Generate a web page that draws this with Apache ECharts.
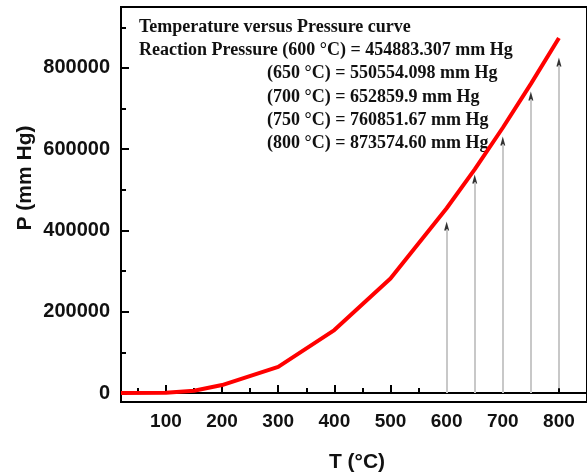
<!DOCTYPE html>
<html>
<head>
<meta charset="utf-8">
<script src="https://cdn.jsdelivr.net/npm/echarts@6/dist/echarts.min.js"></script>
<style>
  html, body { margin: 0; padding: 0; background: #fff; }
  #chart { width: 587px; height: 472px; }
</style>
</head>
<body>
<div id="chart"></div>
<script>
// curve
const temps = [20, 100, 150, 200, 300, 400, 500, 600, 650, 700, 750, 800]
const pressure = [0, 1000, 5600, 19700, 64600, 155000, 282000, 454883, 550554, 652860, 760852, 873575]

// gray arrows
const arrowT = [600, 650, 700, 750, 800]
const arrowBase = [0, 0, 0, 0, 12000]
const arrowTip = [421000, 536600, 630000, 741000, 824600]

const xTicks = [100, 200, 300, 400, 500, 600, 700, 800]
const xMinor = [50, 150, 250, 350, 450, 550, 650, 750, 850]
const yTicks = [0, 200000, 400000, 600000, 800000]
const yMinor = [100000, 300000, 500000, 700000, 900000]

const notes = [
  'Temperature versus Pressure curve',
  'Reaction Pressure (600 °C) = 454883.307 mm Hg',
  '(650 °C) = 550554.098 mm Hg',
  '(700 °C) = 652859.9 mm Hg',
  '(750 °C) = 760851.67 mm Hg',
  '(800 °C) = 873574.60 mm Hg'
]

const sans = 'Liberation Sans, Arial, sans-serif'
const serif = 'Liberation Serif, Times New Roman, serif'

const chart = echarts.init(document.getElementById('chart'))

const xBase = { type: 'value', min: 20, max: 850, splitLine: { show: false } }
const yBase = { type: 'value', min: -22000, max: 950000, splitLine: { show: false } }

const noteText = notes.map((t, i) => ({
  type: 'text',
  x: i < 2 ? 139 : 267,
  y: 27 + i * 23.3,
  style: {
    text: t,
    font: 'bold 18px ' + serif,
    fill: '#111',
    textVerticalAlign: 'middle'
  }
}))

chart.setOption({
  animation: false,
  grid: { left: 121, top: 7, right: -3, bottom: 70, show: true, borderColor: '#000', borderWidth: 2 },
  xAxis: [
    Object.assign({}, xBase, {
      axisLine: { lineStyle: { color: '#000', width: 2 } },
      axisTick: { inside: true, length: 8, lineStyle: { color: '#000', width: 2 }, customValues: xTicks },
      axisLabel: { customValues: xTicks, color: '#111', fontSize: 19, fontWeight: 'bold', fontFamily: sans, margin: 10 }
    }),
    Object.assign({}, xBase, {
      position: 'bottom',
      axisLine: { show: false },
      axisTick: { inside: true, length: 5, lineStyle: { color: '#000', width: 2 }, customValues: xMinor },
      axisLabel: { show: false }
    })
  ],
  yAxis: [
    Object.assign({}, yBase, {
      axisLine: { show: true, lineStyle: { color: '#000', width: 2 } },
      axisTick: { show: true, inside: true, length: 8, lineStyle: { color: '#000', width: 2 }, customValues: yTicks },
      axisLabel: {
        customValues: yTicks,
        formatter: v => String(v),
        color: '#111', fontSize: 20, fontWeight: 'bold', fontFamily: sans, margin: 11
      }
    }),
    Object.assign({}, yBase, {
      position: 'left',
      offset: 0,
      axisLine: { show: false },
      axisTick: { show: true, inside: true, length: 5, lineStyle: { color: '#000', width: 2 }, customValues: yMinor },
      axisLabel: { show: false }
    })
  ],
  graphic: [
    {
      type: 'text',
      x: 25,
      y: 178,
      rotation: Math.PI / 2,
      style: {
        text: 'P (mm Hg)',
        font: 'bold 21px ' + sans,
        fill: '#111',
        textAlign: 'center',
        textVerticalAlign: 'middle'
      }
    },
    {
      type: 'text',
      x: 357,
      y: 462,
      style: {
        text: 'T (°C)',
        font: 'bold 21px ' + sans,
        fill: '#111',
        textAlign: 'center',
        textVerticalAlign: 'middle'
      }
    }
  ].concat(noteText),
  series: [
    {
      type: 'scatter',
      data: arrowT.map((t, i) => [t, arrowTip[i]]),
      symbol: 'triangle',
      symbolSize: [5, 9],
      symbolOffset: [0, 4],
      itemStyle: { color: '#000' },
      silent: true,
      z: 3,
      markLine: {
        silent: true,
        symbol: ['none', 'none'],
        label: { show: false },
        lineStyle: { color: '#c8c8c8', width: 2, type: 'solid' },
        data: arrowT.map((t, i) => [
          { coord: [t, arrowBase[i]] },
          { coord: [t, arrowTip[i] - 18000] }
        ])
      }
    },
    {
      type: 'line',
      data: temps.map((t, i) => [t, pressure[i]]),
      showSymbol: false,
      lineStyle: { color: '#ff0000', width: 4 },
      z: 4
    }
  ]
})
</script>
</body>
</html>
